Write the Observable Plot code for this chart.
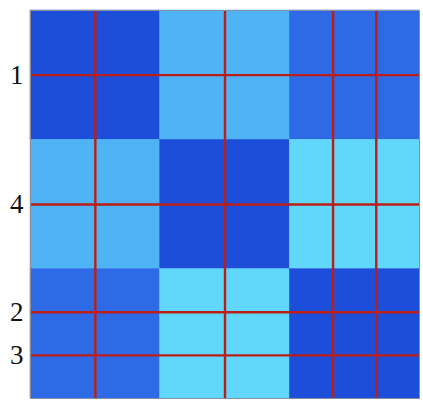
<!DOCTYPE html>
<html>
<head>
<meta charset="utf-8">
<script src="https://cdn.jsdelivr.net/npm/d3@7"></script>
<script src="https://cdn.jsdelivr.net/npm/@observablehq/plot@0.6"></script>
<style>
  html, body { margin: 0; padding: 0; background: #fff; }
</style>
</head>
<body>
<div id="chart"></div>
<script>
// Block boundaries (data units, top to bottom / left to right)
const blockEdges = [0, 3, 6, 9];
// Block values (symmetric matrix)
const blockValues = [
  [0.0, 0.6, 0.2],
  [0.6, 0.0, 0.8],
  [0.2, 0.8, 0.0]
];
// Colour levels
const colorDomain = [0.0, 0.2, 0.6, 0.8];
const colorRange = ["#1d4ed9", "#2e6ae6", "#4fb4f6", "#61d8fb"];
// Red grid lines and tick labels
const lineXs = [1.5, 4.5, 7, 8];
const lineYs = [1.5, 4.5, 7, 8];
const tickLabels = ["1", "4", "2", "3"];

const cells = [];
for (let r = 0; r < 3; r++) {
  for (let c = 0; c < 3; c++) {
    cells.push({
      x1: blockEdges[c], x2: blockEdges[c + 1],
      y1: blockEdges[r], y2: blockEdges[r + 1],
      v: blockValues[r][c]
    });
  }
}
const ticks = lineYs.map((y, i) => ({ y, label: tickLabels[i] }));

const chart = Plot.plot({
  width: 423,
  height: 402,
  marginLeft: 30,
  marginTop: 10,
  marginRight: 4,
  marginBottom: 4,
  style: { background: "#fff" },
  x: { domain: [0, 9], axis: null },
  y: { domain: [0, 9], reverse: true, axis: null },
  color: { type: "ordinal", domain: colorDomain, range: colorRange },
  marks: [
    Plot.rect(cells, { x1: "x1", x2: "x2", y1: "y1", y2: "y2", fill: "v", stroke: "v", strokeWidth: 0.5 }),
    Plot.ruleX(lineXs, { stroke: "#bb1e16", strokeWidth: 2.4 }),
    Plot.ruleY(lineYs, { stroke: "#bb1e16", strokeWidth: 2.4 }),
    Plot.frame({ stroke: "#8a8fa0", strokeWidth: 1 }),
    Plot.text(ticks, {
      y: "y",
      text: "label",
      frameAnchor: "left",
      textAnchor: "end",
      dx: -7,
      fontSize: 27,
      fontFamily: "'Liberation Serif', 'DejaVu Serif', serif",
      fill: "#111"
    })
  ]
});
document.getElementById("chart").appendChild(chart);
</script>
</body>
</html>
